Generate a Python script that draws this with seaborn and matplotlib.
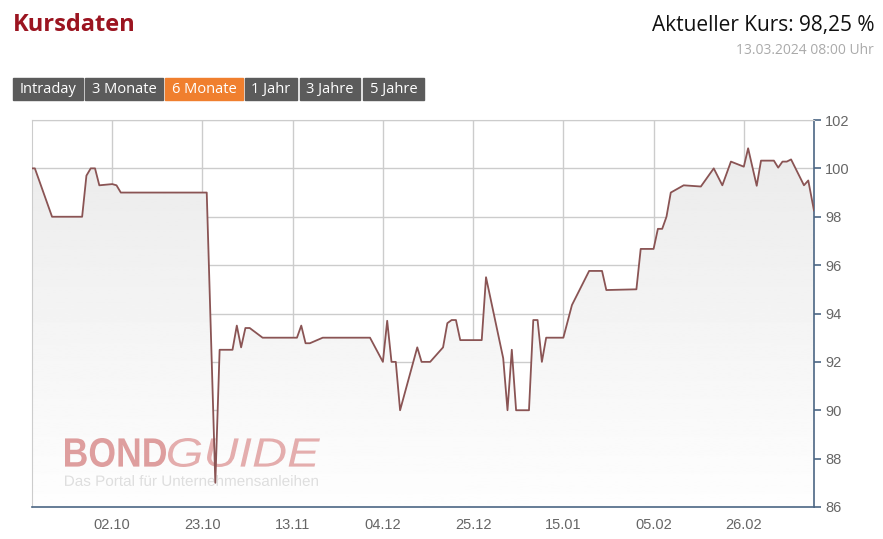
import numpy as np
import pandas as pd
import matplotlib
matplotlib.use("Agg")
import matplotlib.pyplot as plt
import matplotlib.dates as mdates
from matplotlib.patches import Rectangle, PathPatch
from matplotlib.textpath import TextPath
from matplotlib.font_manager import FontProperties
from matplotlib.transforms import Affine2D, IdentityTransform
import seaborn as sns

# price history (in %)
dates = [
    "2023-09-13 08:00", "2023-09-14", "2023-09-18", "2023-09-25", "2023-09-26", "2023-09-27",
    "2023-09-28", "2023-09-29", "2023-10-02", "2023-10-03", "2023-10-04", "2023-10-24",
    "2023-10-26", "2023-10-27", "2023-10-30", "2023-10-31", "2023-11-01", "2023-11-02",
    "2023-11-03", "2023-11-06", "2023-11-14", "2023-11-15", "2023-11-16", "2023-11-17",
    "2023-11-20", "2023-12-01", "2023-12-04", "2023-12-05", "2023-12-06", "2023-12-07",
    "2023-12-08", "2023-12-12", "2023-12-13", "2023-12-15", "2023-12-18", "2023-12-19",
    "2023-12-20", "2023-12-21", "2023-12-22", "2023-12-27", "2023-12-28", "2024-01-01",
    "2024-01-02", "2024-01-03", "2024-01-04", "2024-01-07", "2024-01-08", "2024-01-09",
    "2024-01-10", "2024-01-11", "2024-01-15", "2024-01-17", "2024-01-21", "2024-01-24",
    "2024-01-25", "2024-02-01", "2024-02-02", "2024-02-05", "2024-02-06", "2024-02-07",
    "2024-02-08", "2024-02-09", "2024-02-12", "2024-02-16", "2024-02-19", "2024-02-21",
    "2024-02-23", "2024-02-26", "2024-02-27", "2024-02-29", "2024-03-01", "2024-03-04",
    "2024-03-05", "2024-03-06", "2024-03-07", "2024-03-08", "2024-03-11", "2024-03-12",
    "2024-03-13 08:00",
]
kurs = [
    100.0, 100.0, 98.0, 98.0, 99.7, 100.0,
    100.0, 99.3, 99.35, 99.3, 99.0, 99.0,
    87.0, 92.5, 92.5, 93.5, 92.6, 93.4,
    93.4, 93.0, 93.0, 93.5, 92.77, 92.77,
    93.0, 93.0, 92.0, 93.7, 92.0, 92.0,
    90.0, 92.6, 92.0, 92.0, 92.6, 93.6,
    93.73, 93.73, 92.9, 92.9, 95.5, 92.15,
    90.0, 92.5, 90.0, 90.0, 93.73, 93.73,
    92.0, 93.0, 93.0, 94.35, 95.76, 95.76,
    94.97, 95.0, 96.67, 96.67, 97.5, 97.5,
    98.0, 99.0, 99.3, 99.25, 100.0, 99.3,
    100.28, 100.07, 100.83, 99.28, 100.32, 100.32,
    100.03, 100.28, 100.28, 100.37, 99.3, 99.5,
    98.25,
]
tick_dates = ["2023-10-02", "2023-10-23", "2023-11-13", "2023-12-04",
              "2023-12-25", "2024-01-15", "2024-02-05", "2024-02-26"]
tick_labels = ["02.10", "23.10", "13.11", "04.12", "25.12", "15.01", "05.02", "26.02"]
y_ticks = [86, 88, 90, 92, 94, 96, 98, 100, 102]
buttons = ["Intraday", "3 Monate", "6 Monate", "1 Jahr", "3 Jahre", "5 Jahre"]
active_button = "6 Monate"

df = pd.DataFrame({"datum": pd.to_datetime(dates, format="mixed"), "kurs": kurs})

sns.set_style("white")
plt.rcParams["font.family"] = ["Open Sans", "DejaVu Sans"]

W, H = 883, 539
fig = plt.figure(figsize=(W / 100, H / 100), dpi=100)
ax = fig.add_axes([32 / W, 1 - 507 / H, (814 - 32) / W, (507 - 120) / H])

x0 = pd.Timestamp("2023-09-13 08:00")
x1 = pd.Timestamp("2024-03-13 08:00")
ax.set_xlim(x0, x1)
ax.set_ylim(86, 102)

# gradient area under the line
poly = ax.fill_between(df["datum"], df["kurs"], 86, color="none", lw=0)
grad = np.linspace(0.915, 0.995, 256).reshape(-1, 1)
img = ax.imshow(grad, cmap="gray", vmin=0, vmax=1, aspect="auto",
                extent=[mdates.date2num(x0), mdates.date2num(x1), 86, 102],
                origin="upper", zorder=1)
img.set_clip_path(poly.get_paths()[0], transform=ax.transData)

sns.lineplot(data=df, x="datum", y="kurs", ax=ax, color="#8a5454", lw=1.3, zorder=4)


def logo_text(txt, box, color, **font):
    # text squeezed into a pixel box (left, top, width, cap height)
    left, top, w, h = box
    path = TextPath((0, 0), txt, size=100, prop=FontProperties(**font))
    ext = path.get_extents()
    sx = w / ext.width
    sy = h / ext.height
    tr = Affine2D().translate(-ext.x0, -ext.y0).scale(sx, sy).translate(left, H - top - h)
    patch = PathPatch(tr.transform_path(path), transform=IdentityTransform(),
                      color=color, lw=0, zorder=3, clip_on=False)
    ax.add_artist(patch)


# watermark, below the price line
logo_text("BOND", (65, 438, 101, 29), "#de9e9e", family="Liberation Sans", weight="bold")
logo_text("GUIDE", (168, 438, 152, 29), "#e4adad", family="Liberation Sans", style="italic")
logo_text("Das Portal für Unternehmensanleihen", (65, 475, 253, 11), "#dedede",
          family="Liberation Sans")

ax.set_xticks(pd.to_datetime(tick_dates))
ax.set_xticklabels(tick_labels)
ax.set_yticks(y_ticks)
ax.yaxis.tick_right()
ax.grid(True, color="#cccccc", lw=1)
ax.set_axisbelow(True)
ax.set_xlabel("")
ax.set_ylabel("")

axis_col = "#4c6684"
for s in ["left", "top"]:
    ax.spines[s].set_color("#cccccc")
for s in ["bottom", "right"]:
    ax.spines[s].set_color(axis_col)
    ax.spines[s].set_linewidth(1.2)
ax.tick_params(axis="both", direction="out", length=5, width=1.2, color=axis_col,
               labelcolor="#666666", labelsize=10.5)
ax.tick_params(axis="y", pad=3, labelright=True, labelleft=False, right=True, left=False)
ax.tick_params(axis="x", pad=3)
for lab in ax.get_xticklabels() + ax.get_yticklabels():
    lab.set_family("Liberation Sans")

# header
fig.text(13 / W, 1 - 25 / H, "Kursdaten", fontsize=17, fontweight="bold",
         color="#9b1420", va="center", ha="left")
fig.text(874 / W, 1 - 25 / H, "Aktueller Kurs: 98,25 %", fontsize=15,
         color="#111111", va="center", ha="right")
fig.text(874 / W, 1 - 50 / H, "13.03.2024 08:00 Uhr", fontsize=10,
         color="#aaaaaa", va="center", ha="right")

# period buttons
bx = [13, 85, 165, 245, 300, 363]
bw = [70, 78, 78, 52, 60, 61]
for name, left, w in zip(buttons, bx, bw):
    col = "#f07f2e" if name == active_button else "#5b5b5b"
    fig.patches.append(Rectangle((left / W, 1 - 100 / H), w / W, 22 / H,
                                 transform=fig.transFigure, color=col, zorder=1))
    fig.text((left + w / 2) / W, 1 - 89.5 / H, name, fontsize=10.5, color="white",
             ha="center", va="center", zorder=2)

fig.savefig("out.png", dpi=100)
